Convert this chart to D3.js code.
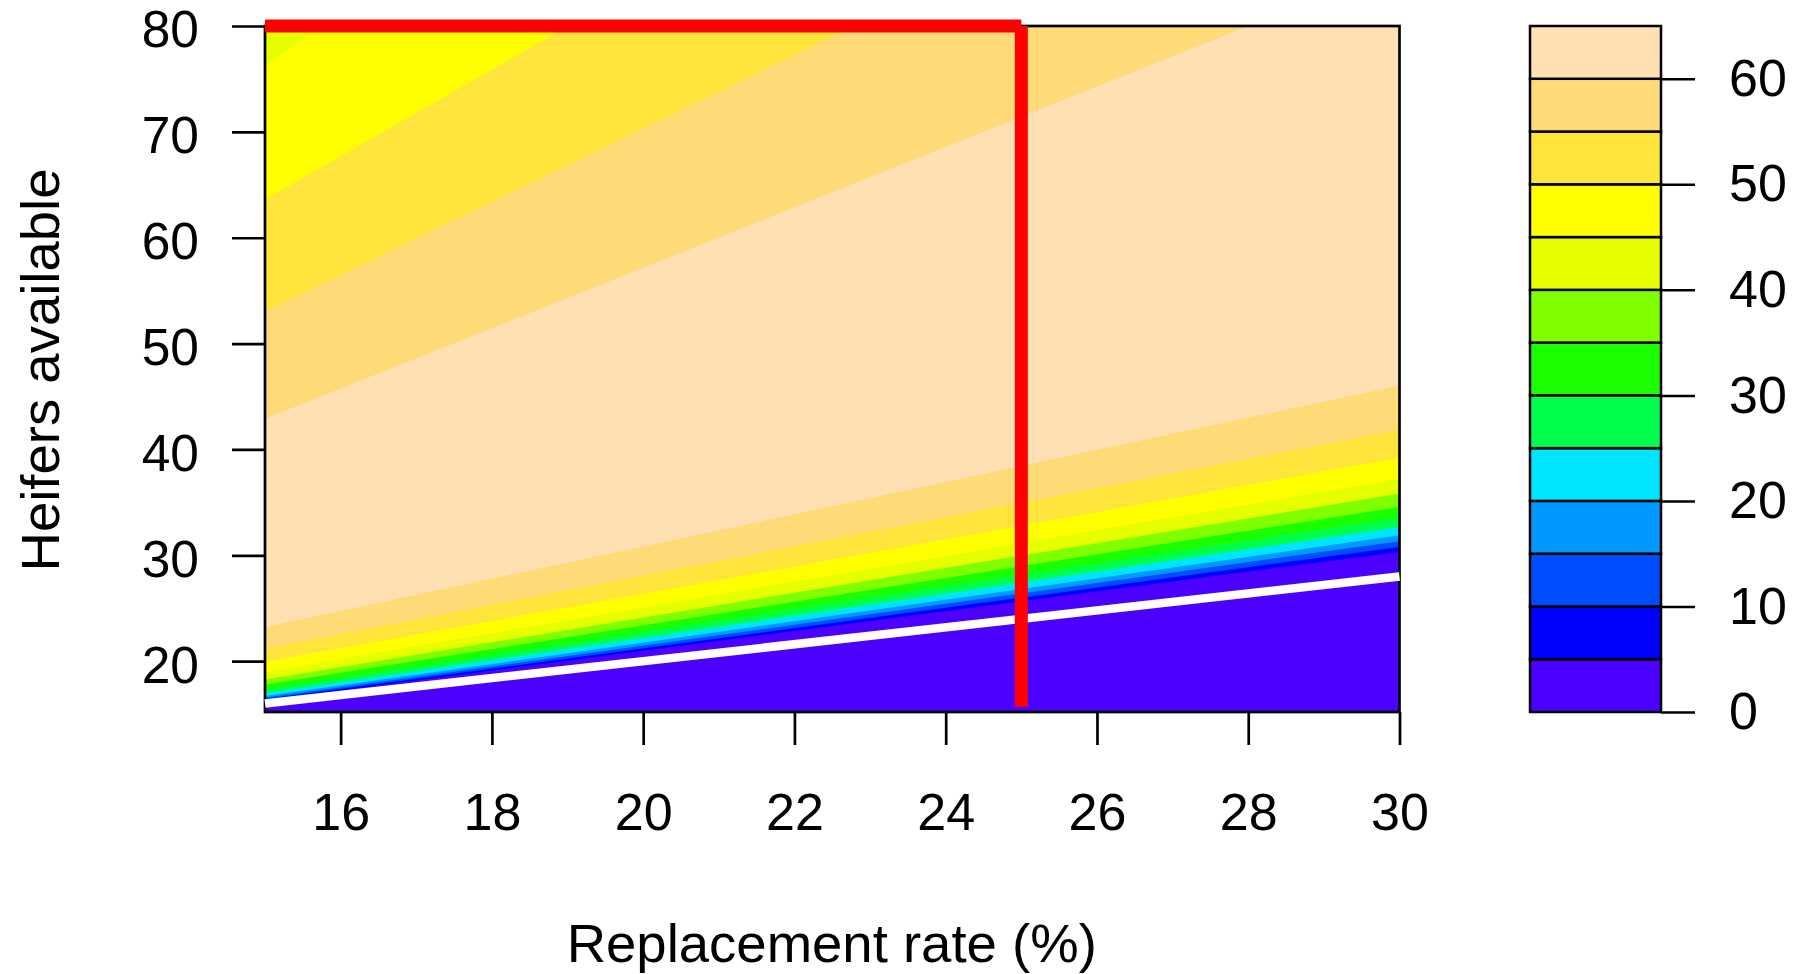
<!DOCTYPE html>
<html>
<head>
<meta charset="utf-8">
<script src="https://cdn.jsdelivr.net/npm/d3@7"></script>
<style>
  html, body { margin: 0; padding: 0; background: #ffffff; }
  svg { display: block; font-family: "Liberation Sans", Arial, sans-serif; }
</style>
</head>
<body>
<svg id="chart" width="1806" height="974"></svg>
<script>
// Contour levels and their fill colours (topo palette, 13 bands of width 5)
const levels = [0, 5, 10, 15, 20, 25, 30, 35, 40, 45, 50, 55, 60, 65];
const bandColors = ["#4C00FF", "#0000FF", "#004CFF", "#0099FF", "#00E5FF", "#00FF4D",
                    "#1AFF00", "#80FF00", "#E6FF00", "#FFFF00", "#FFE53B", "#FFDB77", "#FFE0B3"];

// Axis extents and ticks
const xDomain = [15, 30];
const yDomain = [15.2, 80];
const xTicks = [16, 18, 20, 22, 24, 26, 28, 30];
const yTicks = [20, 30, 40, 50, 60, 70, 80];
const keyTicks = [0, 10, 20, 30, 40, 50, 60];

// Contour lines on the rising side (value increases with heifers available):
// heifers at replacement rate 15 % and at 30 % for each level
const risingLevels = [5, 10, 15, 20, 25, 30, 35, 40, 45, 50, 55, 60];
const risingAt15 = [16.3, 16.42, 16.55, 16.7, 16.95, 17.33, 17.8, 18.27, 18.99, 19.94, 21.2, 23.24];
const risingAt30 = [30.32, 30.79, 31.33, 31.89, 32.68, 33.53, 34.57, 35.83, 37.24, 39.23, 41.87, 46.05];

// Contour lines on the falling side (surplus heifers): start on the left edge,
// end where they leave through the top of the plot
const fallingLevels = [60, 55, 50, 45];
const fallingStartY = [42.9, 53.0, 63.6, 76.2];
const fallingEndX = [28.0, 22.8, 19.0, 15.72];

// Heifers needed (white) and the chosen operating point (red)
const neededLine = [[15, 16], [30, 28]];
const chosenRate = 25;
const chosenTop = 80;
const chosenBottom = 15.7;

const svg = d3.select("#chart");

const plot = { left: 265, right: 1399.5, top: 26, bottom: 712 };
const x = d3.scaleLinear().domain(xDomain).range([plot.left, plot.right]);
const y = d3.scaleLinear().domain(yDomain).range([plot.bottom, plot.top]);

const colorOf = d3.scaleThreshold()
  .domain(levels.slice(1, -1))
  .range(bandColors);

svg.append("defs").append("clipPath").attr("id", "plotClip")
  .append("rect")
  .attr("x", plot.left).attr("y", plot.top)
  .attr("width", plot.right - plot.left).attr("height", plot.bottom - plot.top);

const fills = svg.append("g").attr("clip-path", "url(#plotClip)");
const line = d3.line().x(d => x(d[0])).y(d => y(d[1]));

// Highest band covers the whole field first
fills.append("path")
  .attr("d", line([[xDomain[0], yDomain[0]], [xDomain[1], yDomain[0]],
                   [xDomain[1], yDomain[1]], [xDomain[0], yDomain[1]]]) + "Z")
  .attr("fill", colorOf(62.5));

// Rising side: everything below each contour line takes the next lower band
const risingOrder = d3.range(risingLevels.length).reverse();
risingOrder.forEach(i => {
  const lv = risingLevels[i];
  const pts = [[xDomain[0], risingAt15[i]], [xDomain[1], risingAt30[i]],
               [xDomain[1], yDomain[0]], [xDomain[0], yDomain[0]]];
  fills.append("path")
    .attr("d", line(pts) + "Z")
    .attr("fill", colorOf(lv - 2.5));
});

// Falling side: everything above each contour line takes the next lower band
fallingLevels.forEach((lv, i) => {
  const pts = [[xDomain[0], fallingStartY[i]], [fallingEndX[i], yDomain[1]],
               [xDomain[0], yDomain[1]]];
  fills.append("path")
    .attr("d", line(pts) + "Z")
    .attr("fill", colorOf(lv - 2.5));
});

// Axes
const xAxis = d3.axisBottom(x).tickValues(xTicks).tickSize(33).tickSizeOuter(0).tickPadding(48);
const gx = svg.append("g").attr("transform", `translate(0,${plot.bottom})`).call(xAxis);
gx.select(".domain").remove();
gx.selectAll("line").attr("stroke", "#000").attr("stroke-width", 2.7);
gx.selectAll("text").attr("font-size", 52).attr("fill", "#000")
  .attr("font-family", "Liberation Sans, Arial, sans-serif");

const yAxis = d3.axisLeft(y).tickValues(yTicks).tickSize(33).tickSizeOuter(0).tickPadding(33);
const gy = svg.append("g").attr("transform", `translate(${plot.left},0)`).call(yAxis);
gy.select(".domain").remove();
gy.selectAll("line").attr("stroke", "#000").attr("stroke-width", 2.7);
gy.selectAll("text").attr("font-size", 51.5).attr("fill", "#000").attr("dy", "0.405em")
  .attr("font-family", "Liberation Sans, Arial, sans-serif");

// Plot frame
svg.append("rect")
  .attr("x", plot.left).attr("y", plot.top)
  .attr("width", plot.right - plot.left).attr("height", plot.bottom - plot.top)
  .attr("fill", "none").attr("stroke", "#000").attr("stroke-width", 2.7);

// Heifers needed
svg.append("path")
  .attr("d", line(neededLine))
  .attr("fill", "none").attr("stroke", "#ffffff").attr("stroke-width", 8.5)
  .attr("stroke-linecap", "butt");

// Operating point: 25 % replacement rate
svg.append("path")
  .attr("d", line([[xDomain[0], chosenTop], [chosenRate, chosenTop]]))
  .attr("fill", "none").attr("stroke", "#FF0000").attr("stroke-width", 13)
  .attr("stroke-linecap", "butt");
svg.append("path")
  .attr("d", line([[chosenRate, chosenTop], [chosenRate, chosenBottom]]))
  .attr("fill", "none").attr("stroke", "#FF0000").attr("stroke-width", 13)
  .attr("stroke-linecap", "butt");

// Axis titles
svg.append("text")
  .attr("x", (plot.left + plot.right) / 2 - 0.5).attr("y", 962)
  .attr("text-anchor", "middle").attr("font-size", 54.5).attr("fill", "#000")
  .text("Replacement rate (%)");
svg.append("text")
  .attr("transform", "translate(59,370) rotate(-90)")
  .attr("text-anchor", "middle").attr("font-size", 54.5).attr("fill", "#000")
  .text("Heifers available");

// Colour key
const key = { left: 1530, right: 1661, top: 26, bottom: 712 };
const k = d3.scaleLinear().domain([levels[0], levels[levels.length - 1]]).range([key.bottom, key.top]);
const keyG = svg.append("g");
keyG.selectAll("rect")
  .data(d3.range(levels.length - 1))
  .join("rect")
  .attr("x", key.left)
  .attr("width", key.right - key.left)
  .attr("y", i => k(levels[i + 1]))
  .attr("height", i => k(levels[i]) - k(levels[i + 1]))
  .attr("fill", i => bandColors[i])
  .attr("stroke", "#000").attr("stroke-width", 2.5);

const keyAxis = d3.axisRight(k).tickValues(keyTicks).tickSize(34).tickSizeOuter(0).tickPadding(34);
const gk = svg.append("g").attr("transform", `translate(${key.right},0)`).call(keyAxis);
gk.select(".domain").remove();
gk.selectAll("line").attr("stroke", "#000").attr("stroke-width", 2.5);
gk.selectAll("text").attr("font-size", 52).attr("fill", "#000")
  .attr("font-family", "Liberation Sans, Arial, sans-serif");
</script>
</body>
</html>
